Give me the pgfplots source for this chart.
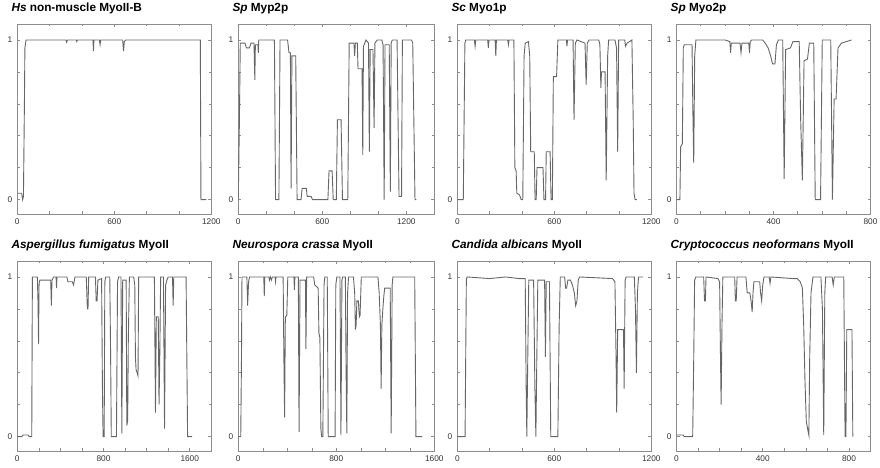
\documentclass[border=0pt]{standalone}
\usepackage{pgfplots}
\pgfplotsset{compat=1.18}
\usepackage{fontspec}
\setmainfont{Liberation Sans}
\pgfplotsset{
  panel/.style={
    scale only axis, width=194pt, height=190pt,
    ymin=-0.09, ymax=1.1,
    ytick={0,1}, minor ytick={0.2,0.4,0.6,0.8},
    axis line style={draw=black!45, line width=0.9pt},
    tick style={draw=black!45, line width=0.6pt},
    major tick length=3pt, minor tick length=2.5pt,
    tick label style={font=\fontsize{8.3}{9}\selectfont, text=black!80},
    /pgf/number format/assume math mode=true,
    /pgf/number format/1000 sep={},
    scaled x ticks=false,
    xticklabel style={yshift=-1pt},
    yticklabel style={xshift=-1.5pt},
    title style={at={(0,1)}, anchor=base west, xshift=-6pt, yshift=6.5pt,
      font=\fontsize{11.8}{13}\selectfont\bfseries, inner sep=0pt},
    cycle list={{draw=black!65, mark=none}},
    every axis plot post/.append style={line width=0.9pt, draw=black!60, mark=none, line join=miter},
  }
}
\begin{document}
\begin{tikzpicture}
\useasboundingbox (0,0) rectangle (880pt,468pt);
% ---------- row 1 ----------
\begin{axis}[panel, at={(17.3pt,254pt)}, anchor=south west,
  xmin=0, xmax=1200, xtick={0,600,1200}, minor x tick num=2,
  title={\textit{Hs} non-muscle MyoII-B}]
\addplot coordinates {(0,0.04) (27,0.04) (33,0.0) (38,0.02) (44,0.6) (47,0.95) (54,1.0) (300,1.0) (306,0.985) (310,1.0) (365,1.0) (368,0.99) (372,1.0) (468,1.0) (471,0.93) (474,1.0) (508,1.0) (512,0.97) (516,1.0) (652,1.0) (657,0.93) (662,0.99) (670,1.0) (1132,1.0) (1136,0.0) (1170,0.0)};
\end{axis}
\begin{axis}[panel, width=196pt, at={(238.3pt,254pt)}, anchor=south west,
  xmin=0, xmax=1400, xtick={0,600,1200}, minor x tick num=2,
  title={\textit{Sp} Myp2p}]
\addplot coordinates {(0,0) (8,0.5) (14,0.98) (48,0.98) (58,0.95) (80,0.95) (90,0.98) (112,0.98) (118,0.75) (122,0.97) (140,0.97) (143,0.92) (146,1.0) (160,1.0) (258,1.0) (266,0.0) (290,0.0) (298,1.0) (352,1.0) (362,0.92) (372,0.92) (377,0.07) (383,0.9) (410,0.9) (420,0.0) (448,0.0) (456,0.07) (486,0.07) (492,0.02) (520,0.02) (530,0.0) (640,0.0) (648,0.18) (670,0.18) (678,0.0) (700,0.0) (708,0.5) (734,0.5) (744,0.0) (782,0.0) (792,0.98) (826,0.98) (831,0.9) (836,0.98) (850,0.98) (855,0.82) (884,0.82) (889,0.28) (894,0.96) (912,1.0) (930,0.98) (936,0.3) (942,0.94) (962,0.94) (970,0.45) (976,0.98) (992,1.0) (1025,1.0) (1034,0.97) (1042,0.0) (1048,0.97) (1078,0.97) (1086,0.05) (1092,0.98) (1100,1.0) (1134,1.0) (1148,0.02) (1166,0.02) (1172,1.0) (1238,1.0) (1246,0.98) (1262,0.0) (1272,0.0)};
\end{axis}
\begin{axis}[panel, at={(457.3pt,254pt)}, anchor=south west,
  xmin=0, xmax=1200, xtick={0,600,1200}, minor x tick num=2,
  title={\textit{Sc} Myo1p}]
\addplot coordinates {(0,0) (37,0) (42,0.5) (47,0.98) (52,1.0) (106,1.0) (110,0.96) (114,1.0) (188,1.0) (192,0.95) (196,1.0) (234,1.0) (238,0.9) (242,1.0) (312,1.0) (316,0.97) (320,1.0) (350,1.0) (356,0.2) (364,0.18) (368,0.04) (385,0.03) (395,0.0) (405,0.0) (413,0.9) (420,0.98) (440,0.99) (448,0.9) (454,0.3) (476,0.3) (481,0.0) (488,0.0) (493,0.2) (530,0.2) (536,0.0) (546,0.0) (550,0.3) (574,0.3) (580,0.0) (588,0.0) (594,0.77) (614,0.77) (622,1.0) (675,1.0) (678,0.96) (682,1.0) (716,1.0) (722,0.5) (730,0.98) (740,1.0) (790,0.98) (797,0.72) (804,0.98) (815,1.0) (875,1.0) (882,0.97) (888,0.7) (892,0.8) (914,0.8) (921,0.12) (930,0.9) (936,1.0) (975,1.0) (985,0.95) (992,0.3) (998,1.0) (1036,1.0) (1040,0.96) (1050,0.98) (1080,1.0) (1088,0.5) (1093,0.04) (1100,0.0) (1110,0.0)};
\end{axis}
\begin{axis}[panel, at={(676.5pt,254pt)}, anchor=south west,
  xmin=0, xmax=800, xtick={0,400,800}, minor x tick num=3,
  title={\textit{Sp} Myo2p}]
\addplot coordinates {(0,0) (14,0) (17,0.33) (24,0.35) (28,0.95) (32,0.97) (64,0.97) (68,0.5) (71,0.23) (75,0.9) (80,1.0) (200,1.0) (220,0.99) (223,0.92) (226,0.98) (262,0.98) (266,0.92) (270,0.98) (298,0.98) (301,0.92) (304,0.99) (310,1.0) (355,1.0) (366,0.98) (378,0.95) (388,0.9) (396,0.85) (406,0.85) (412,0.97) (420,1.0) (438,1.0) (444,0.13) (450,0.94) (470,0.95) (480,0.99) (506,0.99) (512,0.5) (519,0.12) (526,0.87) (540,0.88) (548,0.98) (566,0.98) (572,0.0) (594,0.0) (601,1.0) (636,1.0) (643,0.0) (650,0.63) (658,0.63) (666,0.95) (680,0.98) (722,1.0)};
\end{axis}
% ---------- row 2 ----------
\begin{axis}[panel, at={(17.3pt,17pt)}, anchor=south west,
  xmin=0, xmax=1800, xtick={0,800,1600}, minor x tick num=3,
  title={\textit{Aspergillus fumigatus} MyoII}]
\addplot coordinates {(0,0) (40,0.0) (56,0.01) (100,0.01) (110,0.0) (134,0.0) (140,1.0) (186,1.0) (192,0.85) (197,0.58) (202,0.96) (210,0.98) (310,0.98) (316,0.82) (322,0.98) (337,1.0) (360,1.0) (364,0.93) (368,1.0) (460,1.0) (470,0.97) (510,0.97) (522,0.95) (535,1.0) (640,1.0) (650,0.8) (656,0.8) (662,1.0) (725,1.0) (732,0.85) (740,0.85) (748,0.98) (782,0.99) (790,0.3) (796,0.0) (806,0.0) (812,0.97) (820,1.0) (858,1.0) (866,0.5) (872,0.0) (920,0.0) (930,0.97) (940,1.0) (962,1.0) (970,0.02) (978,0.98) (1010,0.98) (1016,0.07) (1024,0.1) (1030,0.6) (1040,1.0) (1080,1.0) (1090,0.95) (1096,0.5) (1102,0.42) (1112,0.4) (1120,0.38) (1126,1.0) (1272,1.0) (1282,0.15) (1290,0.75) (1308,0.75) (1315,0.2) (1322,0.5) (1330,1.0) (1356,1.0) (1366,0.05) (1376,0.95) (1388,0.98) (1400,1.0) (1440,1.0) (1446,0.82) (1452,1.0) (1566,1.0) (1580,0.0) (1622,0.0)};
\end{axis}
\begin{axis}[panel, width=196pt, at={(238.3pt,17pt)}, anchor=south west,
  xmin=0, xmax=1600, xtick={0,800,1600}, minor x tick num=3,
  title={\textit{Neurospora crassa} MyoII}]
\addplot coordinates {(0,0) (20,0) (26,0.5) (30,1.0) (70,1.0) (76,0.82) (84,0.97) (92,1.0) (208,1.0) (212,0.88) (216,1.0) (250,1.0) (254,0.98) (262,1.0) (270,0.98) (278,1.0) (300,1.0) (304,0.97) (308,1.0) (366,1.0) (372,0.5) (378,0.12) (384,0.75) (396,0.76) (404,1.0) (454,1.0) (458,0.92) (462,1.0) (490,1.0) (496,0.03) (504,0.98) (548,0.98) (552,0.55) (558,1.0) (615,1.0) (624,0.95) (652,0.93) (658,0.65) (666,0.62) (674,0.05) (680,0.0) (690,0.0) (700,0.95) (706,1.0) (726,1.0) (734,0.0) (790,0.0) (796,0.95) (804,1.0) (830,1.0) (838,0.01) (846,0.98) (852,1.0) (874,1.0) (880,0.4) (886,0.02) (892,0.9) (900,1.0) (940,1.0) (950,0.9) (956,0.67) (962,0.7) (968,0.85) (980,0.85) (988,0.75) (994,0.76) (1004,1.0) (1140,1.0) (1150,0.9) (1160,0.7) (1166,0.3) (1172,0.7) (1180,0.8) (1188,0.88) (1195,0.93) (1240,0.93) (1248,0.02) (1256,0.95) (1262,1.0) (1440,1.0) (1450,0.0) (1500,0.0)};
\end{axis}
\begin{axis}[panel, at={(457.3pt,17pt)}, anchor=south west,
  xmin=0, xmax=1200, xtick={0,600,1200}, minor x tick num=2,
  title={\textit{Candida albicans} MyoII}]
\addplot coordinates {(0,0) (48,0) (52,0.5) (56,0.99) (62,1.0) (200,0.99) (300,1.0) (380,0.99) (420,0.99) (426,0.3) (430,0.0) (436,0.5) (442,0.98) (472,0.98) (480,0.3) (486,0.0) (492,0.5) (498,0.98) (540,0.98) (545,0.5) (550,0.97) (570,0.97) (578,0.0) (622,0.0) (630,0.7) (637,1.0) (664,1.0) (670,0.93) (676,0.93) (684,0.98) (700,0.98) (712,0.95) (724,0.9) (732,0.82) (740,0.85) (748,0.98) (756,1.0) (960,0.99) (975,0.97) (982,0.5) (986,0.15) (992,0.67) (1028,0.67) (1032,0.3) (1038,0.98) (1045,1.0) (1095,1.0) (1102,0.8) (1108,0.4) (1114,0.9) (1121,1.0) (1150,1.0)};
\end{axis}
\begin{axis}[panel, at={(676.5pt,17pt)}, anchor=south west,
  xmin=0, xmax=900, xtick={0,400,800}, minor x tick num=3,
  title={\textit{Cryptococcus neoformans} MyoII}]
\addplot coordinates {(0,0.01) (31,0.01) (36,0.0) (75,0.0) (80,0.5) (84,0.98) (90,1.0) (126,1.0) (130,0.85) (134,0.85) (137,1.0) (192,0.99) (200,0.97) (204,0.5) (207,0.2) (211,0.7) (215,1.0) (270,1.0) (273,0.85) (277,0.85) (281,1.0) (322,1.0) (328,0.9) (340,0.9) (346,0.85) (351,0.78) (355,0.9) (359,0.97) (386,0.97) (390,0.9) (395,0.85) (400,0.95) (406,1.0) (430,1.0) (434,0.96) (438,1.0) (540,0.99) (560,0.99) (574,0.97) (584,0.93) (590,0.7) (596,0.35) (602,0.1) (608,0.05) (614,0.01) (618,0.5) (624,0.9) (633,1.0) (670,1.0) (677,0.8) (683,0.01) (688,0.9) (692,1.0) (722,1.0) (727,0.95) (732,1.0) (776,1.0) (782,0.0) (786,0.0) (790,0.67) (814,0.67) (818,0.0)};
\end{axis}
\end{tikzpicture}
\end{document}
